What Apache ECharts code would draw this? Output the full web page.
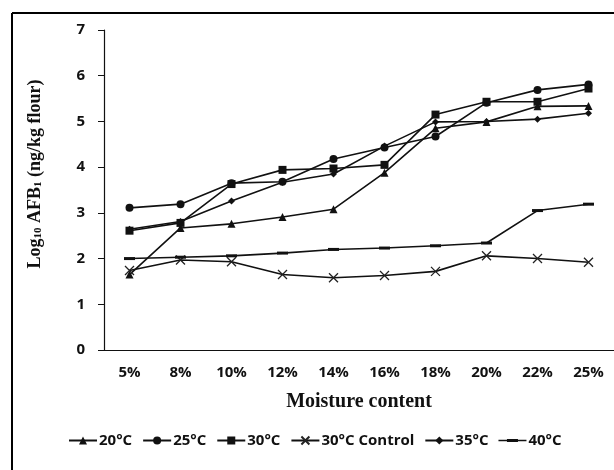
<!DOCTYPE html>
<html lang="en">

<head>
    <meta charset="UTF-8">
    <title>AFB1 vs moisture content</title>
    <style>
        body { margin: 0; background: #fff; }
        #main { width: 614px; height: 470px; }
    </style>
    <script src="https://cdn.jsdelivr.net/npm/echarts@6/dist/echarts.min.js"></script>
</head>

<body>
    <div id="main"></div>

    <script>
        // data
        const categories = ['5%', '8%', '10%', '12%', '14%', '16%', '18%', '20%', '22%', '25%'];
        const yTicks = [0, 1, 2, 3, 4, 5, 6, 7];
        const t20 = [1.65, 2.67, 2.76, 2.91, 3.08, 3.88, 4.85, 4.99, 5.33, 5.34];
        const t25 = [3.11, 3.19, 3.65, 3.68, 4.18, 4.43, 4.67, 5.41, 5.69, 5.81];
        const t30 = [2.61, 2.78, 3.63, 3.94, 3.97, 4.05, 5.15, 5.43, 5.43, 5.72];
        const control30 = [1.74, 1.97, 1.93, 1.65, 1.58, 1.63, 1.72, 2.06, 2.00, 1.92];
        const t35 = [2.64, 2.81, 3.26, 3.67, 3.85, 4.46, 4.99, 5.00, 5.05, 5.18];
        const t40 = [2.00, 2.03, 2.06, 2.12, 2.20, 2.23, 2.28, 2.34, 3.05, 3.19];

        const sans = '"Open Sans", "Noto Sans", sans-serif';
        const serif = '"Liberation Serif", "DejaVu Serif", serif';
        const ink = '#111';

        function lineSeries(name, data, symbol, size, extra) {
            return Object.assign({
                name: name,
                type: 'line',
                data: data,
                symbol: symbol,
                symbolSize: size,
                lineStyle: { color: ink, width: 1.6 },
                itemStyle: { color: ink },
                animation: false
            }, extra || {});
        }

        const crossPath = 'path://M0,0L10,10M10,0L0,10';
        // legend icon for 40°C: thin line with a thicker dash in the middle
        const dashIcon = 'path://M0,0h0.01v0.01h-0.01zM0,4.2h28v1.6h-28zM8.5,3.5h11v3h-11zM27.99,9.99h0.01v0.01h-0.01z';

        const chart = echarts.init(document.getElementById('main'));

        const option = {
            backgroundColor: '#fff',
            animation: false,
            grid: { left: 104, top: 30, width: 514, height: 320 },
            graphic: [
                { type: 'line', shape: { x1: 12, y1: 13, x2: 614, y2: 13 }, style: { stroke: '#000', lineWidth: 2 } },
                { type: 'line', shape: { x1: 12, y1: 13, x2: 12, y2: 470 }, style: { stroke: '#000', lineWidth: 2 } }
            ],
            legend: {
                left: 63,
                top: 428,
                itemWidth: 28,
                itemHeight: 10,
                itemGap: 10,
                textStyle: { fontFamily: sans, fontWeight: 'bold', fontSize: 15, color: ink, padding: [0, 0, 0, -3] },
                data: ['20°C', '25°C', '30°C', '30°C Control', '35°C', { name: '40°C', icon: dashIcon }]
            },
            xAxis: {
                type: 'category',
                data: categories,
                name: 'Moisture content',
                nameLocation: 'middle',
                nameGap: 42,
                nameTextStyle: { fontFamily: serif, fontWeight: 'bold', fontSize: 20, color: ink },
                axisLine: { lineStyle: { color: ink, width: 1.2 } },
                axisTick: { alignWithLabel: true, length: 5, lineStyle: { color: ink } },
                axisLabel: { fontFamily: sans, fontWeight: 'bold', fontSize: 15, color: ink, margin: 15 }
            },
            yAxis: {
                type: 'value',
                min: yTicks[0],
                max: yTicks[yTicks.length - 1],
                interval: 1,
                name: '{b|Log}{s|10}{b| AFB}{s|1}{b| (ng/kg flour)}',
                nameLocation: 'middle',
                nameGap: 60,
                nameTextStyle: {
                    color: ink,
                    padding: [0, 0, 0, 32],
                    rich: {
                        b: { fontFamily: serif, fontWeight: 'bold', fontSize: 18, color: ink, verticalAlign: 'bottom', lineHeight: 20 },
                        s: { fontFamily: serif, fontWeight: 'bold', fontSize: 11, color: ink, verticalAlign: 'bottom', lineHeight: 16 }
                    }
                },
                splitLine: { show: false },
                axisLine: { show: true, lineStyle: { color: ink, width: 1.2 } },
                axisTick: { show: true, length: 6, lineStyle: { color: ink } },
                axisLabel: { fontFamily: sans, fontWeight: 'bold', fontSize: 15, color: ink, margin: 19 }
            },
            series: [
                lineSeries('20°C', t20, 'triangle', 8),
                lineSeries('25°C', t25, 'circle', 8),
                lineSeries('30°C', t30, 'rect', 8),
                lineSeries('30°C Control', control30, crossPath, 9, {
                    itemStyle: { color: 'none', borderColor: '#222', borderWidth: 1.3 }
                }),
                lineSeries('35°C', t35, 'diamond', 7),
                lineSeries('40°C', t40, 'rect', [11, 3])
            ]
        };

        chart.setOption(option);
    </script>
</body>

</html>
